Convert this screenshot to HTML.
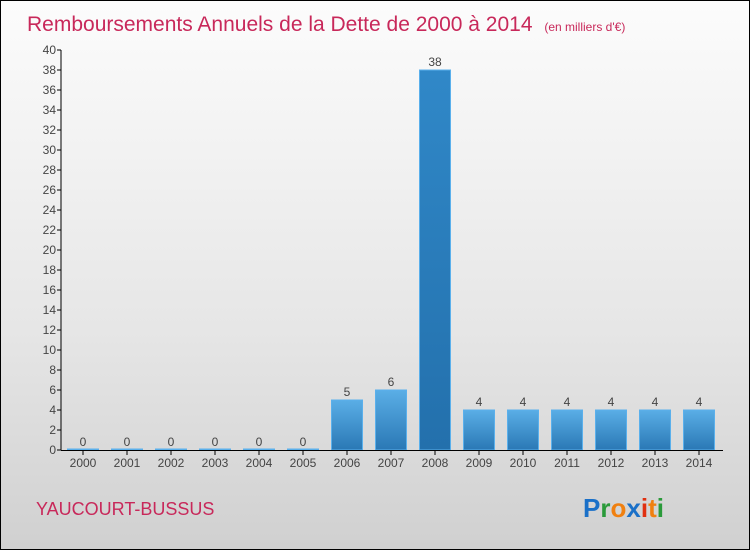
<!DOCTYPE html>
<html><head><meta charset="utf-8"><style>
body{margin:0}
#c{width:748px;height:548px;border:1px solid #000;background:linear-gradient(#fcfcfc,#e6e6e6 60%,#d0d0d0);position:relative;font-family:"Liberation Sans",sans-serif;overflow:hidden}
</style></head><body>
<div id="c">
<svg width="748" height="548" id="s" style="position:absolute;left:0;top:0">
<defs><linearGradient id="g" x1="0" y1="0" x2="0" y2="1"><stop offset="0" stop-color="#5aaee6"/><stop offset="1" stop-color="#2a78b5"/></linearGradient>
<linearGradient id="g2" x1="0" y1="0" x2="0" y2="1"><stop offset="0" stop-color="#3088c8"/><stop offset="1" stop-color="#2370ac"/></linearGradient></defs>
<text x="26" y="30" font-size="21" fill="#c8285a">Remboursements Annuels de la Dette de 2000 à 2014 <tspan font-size="12" dx="6">(en milliers d'€)</tspan></text>
<text x="35" y="514" font-size="18" fill="#c8285a">YAUCOURT-BUSSUS</text>
<text x="582" y="516" font-size="26" font-weight="bold"><tspan fill="#1a70c8">P</tspan><tspan fill="#2a9a3a">r</tspan><tspan fill="#f08010">o</tspan><tspan fill="#1a70c8">x</tspan><tspan fill="#e03010">i</tspan><tspan fill="#f08010">t</tspan><tspan fill="#2a9a3a">i</tspan></text>
<g id="plot"></g>
</svg>
</div>
<script>
const years=["2000","2001","2002","2003","2004","2005","2006","2007","2008","2009","2010","2011","2012","2013","2014"];
const values=[0,0,0,0,0,0,5,6,38,4,4,4,4,4,4];
const yTicks=[0,2,4,6,8,10,12,14,16,18,20,22,24,26,28,30,32,34,36,38,40];
const NS="http://www.w3.org/2000/svg";
const g=document.getElementById('plot');
const y=v=>449-v*10, x=i=>82+i*44;
function el(t,a,txt){const e=document.createElementNS(NS,t);for(const k in a)e.setAttribute(k,a[k]);if(txt!==undefined)e.textContent=txt;g.appendChild(e);return e;}
const ax=el('line',{x1:60,y1:49,x2:60,y2:449,stroke:'#000'});


yTicks.forEach(t=>{
 const l=el('line',{x1:56,x2:60,y1:y(t),y2:y(t),stroke:'#000'});
 
 
 const tx=el('text',{x:55,y:y(t)+4,'font-size':12,fill:'#444','text-anchor':'end'},t);
 
 
});
years.forEach((yr,i)=>{
 const v=values[i],h=Math.max(v*10,1);
 const r=el('rect',{x:x(i)-15.5,y:449-h,width:31,height:h,fill:i==8?'url(#g2)':'url(#g)',stroke:'#5ab0ec','stroke-width':1});
 
 
 const vl=el('text',{x:x(i),y:449-v*10-4,'font-size':12,fill:'#444','text-anchor':'middle'},String(v));
 
 
 const tk=el('line',{x1:x(i),x2:x(i),y1:449,y2:454,stroke:'#000'});
 
 
 const xl=el('text',{x:x(i),y:466,'font-size':12,fill:'#444','text-anchor':'middle'},yr);
 
 
});
const xa=el('line',{x1:60,y1:449.5,x2:722,y2:449.5,stroke:'#000'});


</script>
</body></html>
